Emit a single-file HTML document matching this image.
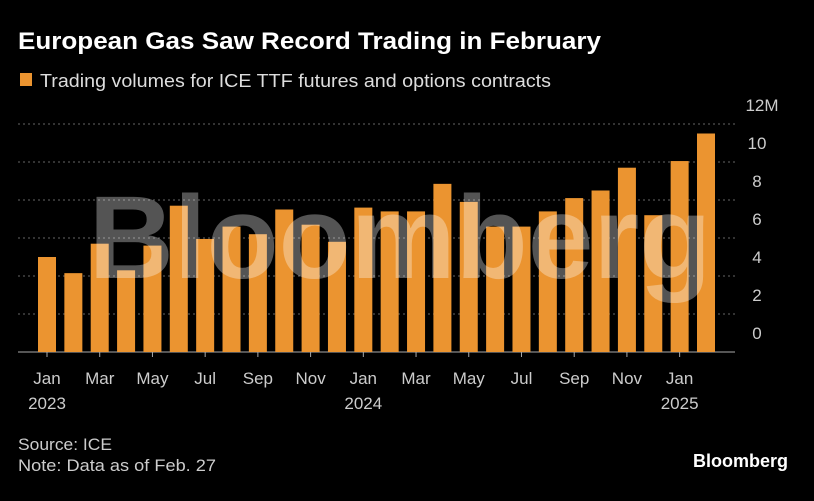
<!DOCTYPE html>
<html><head><meta charset="utf-8"><style>
body{margin:0;background:#000;width:814px;height:501px;overflow:hidden;font-family:"Liberation Sans",sans-serif;color:#fff}
svg{position:absolute;left:0;top:0}
</style></head><body>
<svg width="814" height="501">
<text x="18" y="49" font-size="24" font-weight="bold" fill="#fff" textLength="583" lengthAdjust="spacingAndGlyphs">European Gas Saw Record Trading in February</text>
<rect x="20" y="73" width="12" height="13" fill="#eb9430"/>
<text x="40" y="87" font-size="18" fill="#ddd" textLength="511" lengthAdjust="spacingAndGlyphs">Trading volumes for ICE TTF futures and options contracts</text>
<g id="grid"></g><g id="bars"></g><g id="ylab"></g><g id="xlab"></g>
<text x="400" y="278" font-size="118" font-weight="bold" fill="rgba(255,255,255,0.33)" text-anchor="middle">Bloomberg</text>
<text x="18" y="450" font-size="17" fill="#ccc" textLength="94" lengthAdjust="spacingAndGlyphs">Source: ICE</text>
<text x="18" y="471" font-size="17" fill="#ccc" textLength="198" lengthAdjust="spacingAndGlyphs">Note: Data as of Feb. 27</text>
<text x="788" y="467" font-size="18" font-weight="bold" fill="#fff" text-anchor="end">Bloomberg</text>
</svg>
<script>
const months=["Jan 2023","Feb 2023","Mar 2023","Apr 2023","May 2023","Jun 2023","Jul 2023","Aug 2023","Sep 2023","Oct 2023","Nov 2023","Dec 2023","Jan 2024","Feb 2024","Mar 2024","Apr 2024","May 2024","Jun 2024","Jul 2024","Aug 2024","Sep 2024","Oct 2024","Nov 2024","Dec 2024","Jan 2025","Feb 2025"];
const volumes=[5.0,4.15,5.7,4.3,5.6,7.7,5.95,6.6,6.2,7.5,6.7,5.8,7.6,7.4,7.4,8.85,7.9,6.6,6.6,7.4,8.1,8.5,9.7,7.2,10.05,11.5];
const yTicks=[0,2,4,6,8,10,12];
const xTickLabels=[["Jan","2023"],["Mar",""],["May",""],["Jul",""],["Sep",""],["Nov",""],["Jan","2024"],["Mar",""],["May",""],["Jul",""],["Sep",""],["Nov",""],["Jan","2025"]];
const NS="http://www.w3.org/2000/svg";
const y=v=>352-v*19, x=i=>38+i*26.36;
function mk(t,a,p){const e=document.createElementNS(NS,t);for(const k in a)e.setAttribute(k,a[k]);p.appendChild(e);return e;}
const G=document.getElementById('grid'),B=document.getElementById('bars'),YL=document.getElementById('ylab'),XL=document.getElementById('xlab');
yTicks.forEach(v=>{
 const l=mk('line',{x1:18,x2:735,y1:y(v),y2:y(v),stroke:v===0?'#aaa':'#666','stroke-dasharray':v===0?'':'2,3','stroke-width':1},G);
 
 
 const t=mk('text',{x:v===12?762:757,y:y(v)-13,'font-size':17,fill:'#ccc','text-anchor':'middle'},YL);
 t.textContent=v===12?'12M':v;
 
 
});
volumes.forEach((v,i)=>{
 const r=mk('rect',{x:x(i),y:y(v),width:18,height:v*19,fill:'#eb9430'},B);
 
 
});
xTickLabels.forEach((l,j)=>{
 const cx=x(j*2)+9;
 mk('line',{x1:cx,x2:cx,y1:352,y2:357,stroke:'#aaa'},XL);
 const t=mk('text',{x:cx,y:384,'font-size':17,fill:'#ccc','text-anchor':'middle'},XL);
 t.textContent=l[0];
 
 
 if(l[1]){const t2=mk('text',{x:cx,y:409,'font-size':17,fill:'#ccc','text-anchor':'middle'},XL);
 t2.textContent=l[1];
 
 }
});
</script>
</body></html>
